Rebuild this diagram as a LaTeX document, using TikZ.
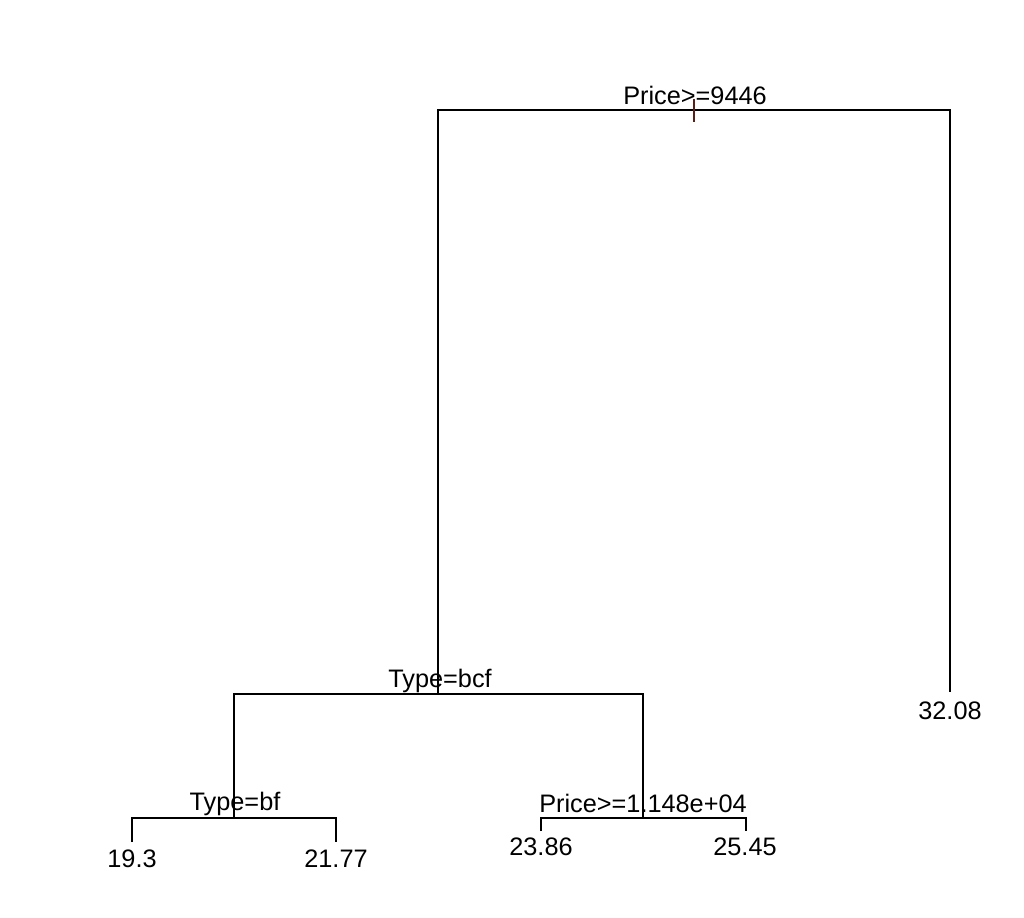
\documentclass[tikz,border=0pt]{standalone}
\usepackage{fontspec}
\setmainfont{Liberation Sans}
\usetikzlibrary{calc}

\begin{document}
\begin{tikzpicture}[x=0.02cm,y=-0.02cm,
  label text/.style={font=\fontsize{14.4}{16}\selectfont,inner sep=0pt,anchor=base},
  branch/.style={line width=1.3pt}]
\useasboundingbox (0,0) rectangle (1024,918);
% Coordinates
\coordinate (root-left) at (438,110);
\coordinate (root-right) at (950,110);
\coordinate (root-tick) at (694,110);
\coordinate (bcf-left) at (234,694);
\coordinate (bcf-right) at (643,694);
\coordinate (bcf-mid) at (438,694);
\coordinate (bf-left) at (132,818);
\coordinate (bf-right) at (336,818);
\coordinate (bf-mid) at (234,818);
\coordinate (price-left) at (541,818);
\coordinate (price-right) at (746,818);
\coordinate (price-mid) at (643,818);
\coordinate (leaf-a) at (132,842);
\coordinate (leaf-b) at (336,842);
\coordinate (leaf-c) at (541,831);
\coordinate (leaf-d) at (746,831);
\coordinate (leaf-e) at (950,692);
% Split labels
\node[label text] (root) at (695,105) {Price>=9446};
\node[label text] (bcf) at (440,687) {Type=bcf};
\node[label text] (bf) at (235,810) {Type=bf};
\node[label text] (price) at (643,812) {Price>=1.148e+04};
% Leaf labels
\node[label text] (val-a) at (132,867) {19.3};
\node[label text] (val-b) at (336,867) {21.77};
\node[label text] (val-c) at (541,855) {23.86};
\node[label text] (val-d) at (745,855) {25.45};
\node[label text] (val-e) at (950,719) {32.08};
% Draw branches
\draw[branch] (bcf-mid) -- (root-left) -- (root-right) -- (leaf-e);
\draw[branch] (bf-mid) -- (bcf-left) -- (bcf-right) -- (price-mid);
\draw[branch] (leaf-a) -- (bf-left) -- (bf-right) -- (leaf-b);
\draw[branch] (leaf-c) -- (price-left) -- (price-right) -- (leaf-d);
% Tick on the root split
\draw[line width=0.6pt,color={rgb,255:red,90;green,30;blue,20}]
  ($(root-tick)+(0,-11)$) -- ($(root-tick)+(0,12)$);
\end{tikzpicture}
\end{document}
